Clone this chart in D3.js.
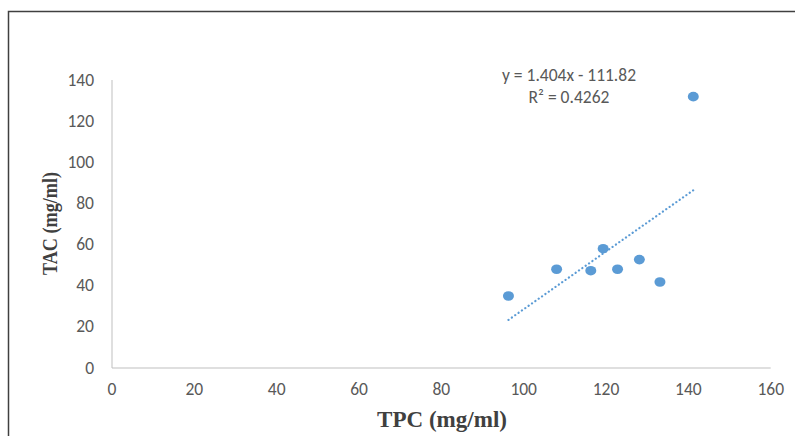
<!DOCTYPE html>
<html>
<head>
<meta charset="utf-8">
<script src="https://cdn.jsdelivr.net/npm/d3@7"></script>
<style>
  body { margin: 0; background: #fff; }
  svg { display: block; }
</style>
</head>
<body>
<svg id="chart" width="795" height="436"></svg>
<script>
// data
const tpc = [96.3, 108.0, 116.3, 119.3, 122.8, 128.1, 133.1, 141.2];
const tac = [35.0, 48.0, 47.3, 58.0, 48.0, 52.7, 41.8, 131.9];
const trend = { slope: 1.404, intercept: -111.82, r2: 0.4262 };
const xTicks = [0, 20, 40, 60, 80, 100, 120, 140, 160];
const yTicks = [0, 20, 40, 60, 80, 100, 120, 140];

const svg = d3.select("#chart");
const x = d3.scaleLinear().domain([0, 160]).range([112, 770.7]);
const y = d3.scaleLinear().domain([0, 140]).range([368, 80]);

// outer frame (runs off the right / bottom edge)
svg.append("rect")
  .attr("x", 8.5).attr("y", 11.5)
  .attr("width", 800).attr("height", 440)
  .attr("fill", "none")
  .attr("stroke", "#404040")
  .attr("stroke-width", 1.5);

const labelFont = "Carlito, 'Open Sans', 'Liberation Sans', sans-serif";
const titleFont = "'Liberation Serif', 'Times New Roman', serif";

// axes lines
svg.append("line")
  .attr("x1", x(0)).attr("x2", x(0))
  .attr("y1", y(140)).attr("y2", y(0))
  .attr("stroke", "#bfbfbf");
svg.append("line")
  .attr("x1", x(0)).attr("x2", x(160))
  .attr("y1", y(0)).attr("y2", y(0))
  .attr("stroke", "#bfbfbf");

svg.append("g")
  .selectAll("text")
  .data(yTicks)
  .join("text")
  .attr("x", 94)
  .attr("y", d => y(d) + 5.5)
  .attr("text-anchor", "end")
  .attr("font-family", labelFont)
  .attr("font-size", 17.5)
  .attr("fill", "#595959")
  .text(d => d);

svg.append("g")
  .selectAll("text")
  .data(xTicks)
  .join("text")
  .attr("x", d => x(d))
  .attr("y", 394.5)
  .attr("text-anchor", "middle")
  .attr("font-family", labelFont)
  .attr("font-size", 17.5)
  .attr("fill", "#595959")
  .text(d => d);

// trendline from min to max x
const [x0, x1] = d3.extent(tpc);
svg.append("line")
  .attr("x1", x(x0)).attr("y1", y(trend.slope * x0 + trend.intercept))
  .attr("x2", x(x1)).attr("y2", y(trend.slope * x1 + trend.intercept))
  .attr("stroke", "#5b9bd5")
  .attr("stroke-width", 2.2)
  .attr("stroke-dasharray", "0.1 4")
  .attr("stroke-linecap", "round");

// points
svg.append("g")
  .selectAll("ellipse")
  .data(tpc.map((v, i) => [v, tac[i]]))
  .join("ellipse")
  .attr("cx", d => x(d[0]))
  .attr("cy", d => y(d[1]))
  .attr("rx", 5.5)
  .attr("ry", 4.8)
  .attr("fill", "#5b9bd5");

// equation label
const eq = svg.append("text")
  .attr("font-family", labelFont)
  .attr("font-size", 17.5)
  .attr("fill", "#595959")
  .attr("text-anchor", "middle");
eq.append("tspan").attr("x", 569).attr("y", 80.5)
  .text(`y = ${trend.slope}x - ${Math.abs(trend.intercept)}`);
eq.append("tspan").attr("x", 569).attr("y", 102.5)
  .text(`R² = ${trend.r2}`);

// axis titles
svg.append("text")
  .attr("x", 442).attr("y", 427)
  .attr("text-anchor", "middle")
  .attr("font-family", titleFont)
  .attr("font-weight", "bold")
  .attr("font-size", 24)
  .attr("textLength", 130)
  .attr("lengthAdjust", "spacingAndGlyphs")
  .attr("fill", "#404040")
  .text("TPC (mg/ml)");

svg.append("text")
  .attr("transform", "translate(57,223.5) rotate(-90)")
  .attr("text-anchor", "middle")
  .attr("font-family", titleFont)
  .attr("font-weight", "bold")
  .attr("font-size", 22)
  .attr("textLength", 103)
  .attr("lengthAdjust", "spacingAndGlyphs")
  .attr("fill", "#404040")
  .text("TAC (mg/ml)");
</script>
</body>
</html>
